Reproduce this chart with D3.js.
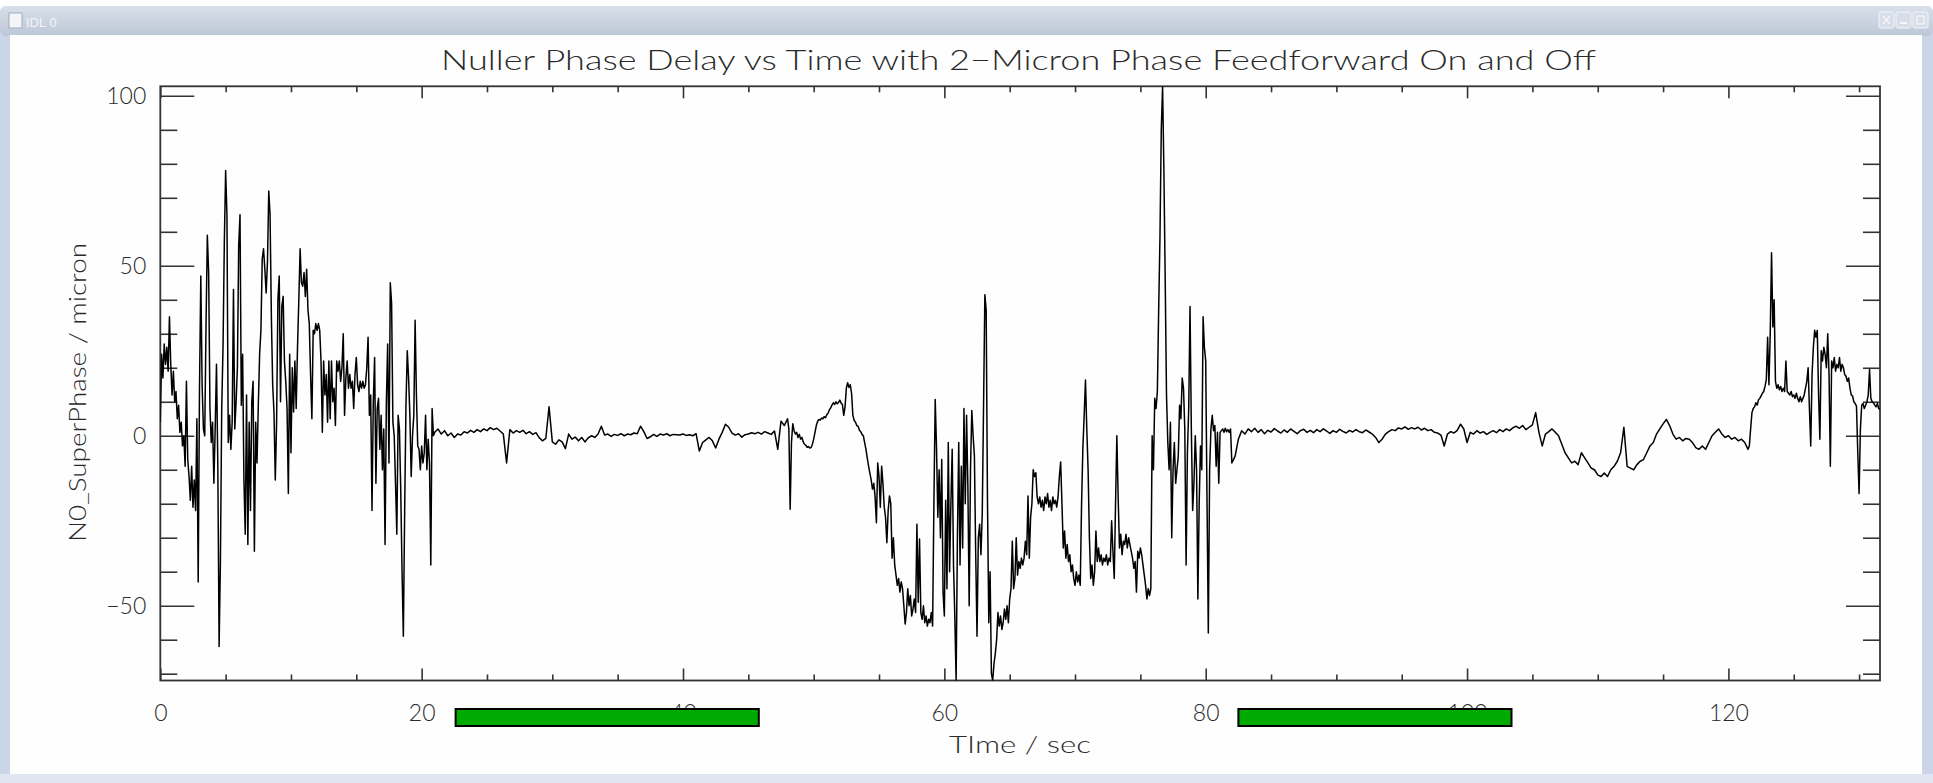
<!DOCTYPE html>
<html>
<head>
<meta charset="utf-8">
<script src="https://cdn.jsdelivr.net/npm/d3@7"></script>
<style>
html, body { margin: 0; padding: 0; background: #ffffff; overflow: hidden; }
svg { display: block; }
</style>
</head>
<body>
<svg id="chart" width="1933" height="783"></svg>
<script>
// ---- axis ticks ----
const xMajorTicks = [0, 20, 40, 60, 80, 100, 120];
const xMinorTicks = [5, 10, 15, 25, 30, 35, 45, 50, 55, 65, 70, 75, 85, 90, 95, 105, 110, 115, 125, 130];
const yMajorTicks = [-50, 0, 50, 100];
const yMinorTicks = [-70, -60, -40, -30, -20, -10, 10, 20, 30, 40, 60, 70, 80, 90];

// ---- N0_SuperPhase samples (micron), stored per recording segment ----
// segment 1: 0.0 - 21.0 s, 0.1 s sampling (feedforward off)
const seg1Start = 0, seg1Step = 0.1;
const seg1Values = [
  4,24,17,27,21,26,19,35,21,12,
  19,10,13,5,9,1,4,-3,0,-9,
  16,-7,-12,-19,-9,-21,-13,-22,5,-43,
  14,47,15,2,0,33,59,48,8,-2,
  4,-14,2,21,-8,-62,-37,8,26,57,
  78,65,-2,6,-4,4,43,2,10,20,
  56,65,9,24,-13,-29,12,-32,4,-22,
  10,16,-34,4,-8,9,24,31,52,55,
  49,42,51,72,65,35,15,7,-13,4,
  40,47,10,38,41,22,16,8,-17,24,
  -5,20,7,22,8,26,40,55,45,44,
  48,41,49,37,33,18,5,31,30,33,
  31,33,31,22,1,22,12,18,4,22,
  5,22,10,14,3,22,19,22,16,20,
  30,6,17,22,14,18,14,16,8,18,
  23,15,13,16,14,16,14,15,20,29,
  6,12,-22,10,23,-14,8,11,-4,6,
  -10,2,-32,10,27,-8,45,39,4,0,
  -14,-29,6,2,-16,-40,-59,-22,9,25,
  17,6,-12,0,6,34,12,-3,-4,-10,
  -3,-8,-5,6,-10,-1,-8,-38,8,0,
  1
];
// segment 2: 21.25 - 48.0 s, 0.25 s sampling (feedforward on)
const seg2Start = 21.25, seg2Step = 0.25;
const seg2Values = [
  2,0.5,1.5,0,0.8,-0.5,0.5,0.2,1.2,0.8,
  1.6,1,1.8,1.2,2,1.5,2.4,1.8,2.2,1.4,
  0.5,-8,1.8,0.8,1.5,1,1.6,0.6,1.2,0.4,
  0.9,-0.6,-1.5,-0.8,8.5,-1.8,-2.5,-1.2,-1.8,-3.8,
  0.5,-1,-0.4,-1.5,-0.5,-1.8,-0.6,0,-0.5,0.5,
  2.8,0.2,0.5,-0.2,0.4,0.1,0.6,0,0.5,0.3,
  0.8,0.6,2.8,1.2,-0.8,-0.3,0.4,-0.2,0.5,0.2,
  0.6,0,0.4,0.3,0.2,0.5,0.1,0.3,0,0.6,
  -4.5,-2,-1.2,-0.5,-1.5,-3.6,-1,1,3.4,2.5,
  0.8,0.2,0.6,-0.4,0.3,0.5,0.9,0.6,1,0.5,
  1.2,0.8,0.4,1.4,-4,4.3,3,5
];
// segment 3: 48.1 - 82.0 s, 0.1 s sampling (feedforward off)
const seg3Start = 48.1, seg3Step = 0.1;
const seg3Values = [
  2,-21.6,-2,3.5,1.5,0.5,1,-0.5,0.4,-1,
  -0.5,-1.8,-2.5,-2.8,-3.4,-3.2,-3.6,-3.5,-2.5,-1,
  1,3,4.2,4.8,4.6,5.2,5,5.6,5.3,6.2,
  6.6,7.6,8.2,9,9.7,9.2,10,9.4,9.8,10.5,
  9.6,9.2,6,8.5,14,15.6,14.2,15,12.5,6,
  4.5,4,3,2.8,1.6,1.2,0.4,0,-2,-4,
  -6.5,-8.9,-11,-13,-15.7,-14,-18,-25.6,-8,-12,
  -21,-9,-14,-21,-24,-31.5,-22,-17.7,-20,-36,
  -30,-38,-41,-44,-42,-46,-43,-45,-50,-55.4,
  -52,-45,-50,-47,-53,-51,-48,-52,-26,-49,
  -30.4,-52,-54,-50,-55,-53,-56,-54,-55,-52,
  -56,-20,10.7,-3.4,-24,-10,-30,-7,-46,-53,
  -19,-45,-2,-40,-20,-4,-38,-53,-72,-30,
  -2,-38,-9,-33,8,-20,6,-15,-50,-10,
  7.4,0,-6,-35,-59,-30,-26,-35,-23,8.7,
  41.5,37,-19,-55,-40,-70,-72,-67,-64,-60,
  -52,-56,-53,-57,-55,-51,-54,-50,-55,-48,
  -45,-31,-45,-42,-30,-41,-37,-39,-36,-38,
  -36,-31,-35,-17.7,-36,-24,-20,-10,-12,-10.9,
  -18,-20,-18,-21,-19,-22,-18,-20,-17,-21,
  -19,-22,-18,-20,-19,-21,-18,-12,-7.7,-20,
  -33,-28,-36,-32,-37,-35,-40,-38,-42,-44,
  -40,-43,-41,-44,-20,-3.6,6,16.4,2,-10,
  -30,-42,-38,-44,-40,-28,-37,-33,-37,-35,
  -38,-36,-37,-35,-38,-36,-37,-25,-34,-42,
  -20,0,-18,-33,-29,-35,-31,-32,-29,-33,
  -30,-32,-34,-36,-39,-37,-46,-34,-36,-33,
  -35,-38,-41,-44,-48,-45,-47,-45,0,-10,
  11,8,13,37,58.6,90,102.8,78,46,12,
  -2,-10,4,-30,-10,-2,-14,-10,-6,9,
  5,17,14,2,-38,-5,8,38,2,-22,
  -14,0,-10,-48,-20,-3,-10,35,26,22,
  -19,-58,-10,2,6,1.5,3,-9,1,-14,
  1,1.5,2,1,2.2,1.2,1.8,1,2,-8
];
// segment 4: 82.25 - 121.5 s, 0.25 s sampling (feedforward on)
const seg4Start = 82.25, seg4Step = 0.25;
const seg4Values = [
  -6,-1,1.5,0.5,2,1.2,2.2,1,1.8,0.6,
  1.6,1.1,2.1,1.4,0.8,1.7,1,2,1.3,0.6,
  1.5,1.9,1,1.6,0.9,1.8,1.2,2,1.4,0.7,
  1.5,1,1.9,1.3,0.8,1.6,1.1,1.8,1.2,0.9,
  1.7,1.1,0.5,-0.5,-2,-1,0.5,1.2,1.8,1.5,
  2.3,2,2.6,1.9,2.4,2,2.5,1.7,2.2,1.5,
  1.8,1,0.8,0.2,-3,0.5,1.2,0.8,1.6,3.4,
  2,-2,1,0.5,1.5,0.8,1.2,0.4,1,1.5,
  0.9,1.8,1.2,2,1.5,2.3,2.8,2.2,3,1.8,
  2.5,3.2,6.8,1,-3,0.5,1.2,2,1,0,
  -2.5,-5,-6.5,-8,-7.5,-8.5,-5,-6.5,-8,-9.5,
  -10,-11.5,-12,-11,-12,-10,-9,-7.5,-5,2.5,
  -9,-9.5,-10,-8.5,-7.5,-7,-5,-3,-2,0.5,
  2,3.5,4.8,3,0.5,-1,-0.5,-1.5,-0.8,-1,
  -2,-3.5,-4,-3,-4,-2,0,1,2,0.5,
  -0.5,0,-1,-0.5,-1.5,-1,-2,-4
];
// segment 5: 121.6 - 131.6 s, 0.1 s sampling (feedforward off)
const seg5Start = 121.6, seg5Step = 0.1;
const seg5Values = [
  -3,2,6.8,8,8.5,9.7,9,10.5,11,11.7,
  12.5,13,14.5,16.5,29,15,30,53.8,32,40,
  16,14,15,13.5,14.5,13,14,13,22,13,
  12.5,12,13,11.5,12,11,12.5,11,10,11.5,
  10,11,12,14,16,20,8,-3,18,26,
  31,29,31,12,-1,25,22,26,24,20,
  30,18,-9,22,20,23,19,21,20,23,
  19,21,20,18,17.5,16,17,14,12,11.7,
  10,9.5,8.7,-5,-17,2,9,9.5,8,9,
  10,12,19.5,11,10,9.7,9,8.5,9.5,8,
  7.8
];

// ---- intervals with 2-micron phase feedforward on (s) ----
const feedforwardOnStart = [22.6, 82.5];
const feedforwardOnEnd = [45.8, 103.4];

// ---- assemble the time series ----
const segments = [
  [seg1Start, seg1Step, seg1Values],
  [seg2Start, seg2Step, seg2Values],
  [seg3Start, seg3Step, seg3Values],
  [seg4Start, seg4Step, seg4Values],
  [seg5Start, seg5Step, seg5Values]
];
const series = [];
segments.forEach(([t0, dt, vals]) => {
  vals.forEach((v, i) => series.push({ t: +(t0 + i * dt).toFixed(3), v: v }));
});

// ---- layout ----
const W = 1933, H = 783;
const plot = { left: 160.3, right: 1880, top: 86.3, bottom: 680.5 };
const FONT = "Lato, 'DejaVu Sans', sans-serif";
const INK = "#2a2a2a";

const svg = d3.select("#chart");

// window chrome
const defs = svg.append("defs");
const grad = defs.append("linearGradient").attr("id", "titlebar")
  .attr("x1", 0).attr("y1", 0).attr("x2", 0).attr("y2", 1);
grad.append("stop").attr("offset", "0%").attr("stop-color", "#d9e0ea");
grad.append("stop").attr("offset", "100%").attr("stop-color", "#bcc7d6");

svg.append("rect").attr("x", 0).attr("y", 0).attr("width", W).attr("height", H).attr("fill", "#ffffff");
svg.append("rect").attr("x", 0).attr("y", 6).attr("width", W).attr("height", H - 6)
  .attr("rx", 6).attr("fill", "#cad6e7");
svg.append("rect").attr("x", 0).attr("y", 6).attr("width", W).attr("height", 30)
  .attr("rx", 6).attr("fill", "url(#titlebar)");
svg.append("rect").attr("x", 0).attr("y", 774).attr("width", W).attr("height", 9).attr("fill", "#dfe6f1");
svg.append("rect").attr("x", 10).attr("y", 35).attr("width", W - 21).attr("height", 739).attr("fill", "#fefefe");

// title bar icon and caption
svg.append("rect").attr("x", 9).attr("y", 13).attr("width", 13).attr("height", 15)
  .attr("fill", "#f3f5f8").attr("stroke", "#9eabbd").attr("stroke-width", 1);
svg.append("text").attr("x", 26).attr("y", 27).attr("font-family", "'DejaVu Sans', sans-serif")
  .attr("font-size", 12).attr("fill", "#f4f6fa").text("IDL 0");

// title bar buttons
[1879, 1896, 1913].forEach((bx, i) => {
  svg.append("rect").attr("x", bx).attr("y", 12).attr("width", 15).attr("height", 16).attr("rx", 2)
    .attr("fill", "#d7dee9").attr("stroke", "#f2f5f9").attr("stroke-width", 1);
});
svg.append("path").attr("d", "M1883,16 L1890,24 M1890,16 L1883,24").attr("stroke", "#f4f6f9").attr("stroke-width", 1.5);
svg.append("path").attr("d", "M1900,23 L1907,23").attr("stroke", "#f4f6f9").attr("stroke-width", 2);
svg.append("rect").attr("x", 1917).attr("y", 16).attr("width", 7).attr("height", 8)
  .attr("fill", "none").attr("stroke", "#f4f6f9").attr("stroke-width", 1.3);

// ---- scales ----
const x = d3.scaleLinear().domain(d3.extent(series, d => d.t)).range([plot.left, plot.right]);
const y = d3.scaleLinear().domain(d3.extent(series, d => d.v)).range([plot.bottom, plot.top]);

// ---- title ----
svg.append("text").attr("x", 441).attr("y", 70)
  .attr("font-family", FONT).attr("font-weight", 300).attr("font-size", 27)
  .attr("fill", INK).attr("textLength", 1155).attr("lengthAdjust", "spacingAndGlyphs")
  .text("Nuller Phase Delay vs Time with 2\u2212Micron Phase Feedforward On and Off");

// ---- axes (ticks point inward, IDL style) ----
function styleAxis(g) {
  g.select(".domain").remove();
  g.selectAll(".tick line").attr("stroke", "#333").attr("stroke-width", 1.6);
  g.selectAll(".tick text").attr("font-family", FONT).attr("font-weight", 300)
    .attr("font-size", 23).attr("fill", INK);
}
const fmt = d => d < 0 ? "\u2212" + Math.abs(d) : String(d);

svg.append("g").attr("transform", `translate(0,${plot.bottom})`)
  .call(d3.axisBottom(x).tickValues(xMajorTicks).tickSize(-12).tickPadding(24).tickFormat(fmt))
  .call(styleAxis);
svg.append("g").attr("transform", `translate(0,${plot.bottom})`)
  .call(d3.axisBottom(x).tickValues(xMinorTicks).tickSize(-6).tickFormat(""))
  .call(styleAxis);
svg.append("g").attr("transform", `translate(0,${plot.top})`)
  .call(d3.axisTop(x).tickValues(xMajorTicks).tickSize(-12).tickFormat(""))
  .call(styleAxis);
svg.append("g").attr("transform", `translate(0,${plot.top})`)
  .call(d3.axisTop(x).tickValues(xMinorTicks).tickSize(-6).tickFormat(""))
  .call(styleAxis);

svg.append("g").attr("transform", `translate(${plot.left},0)`)
  .call(d3.axisLeft(y).tickValues(yMajorTicks).tickSize(-34).tickPadding(14).tickFormat(fmt))
  .call(styleAxis);
svg.append("g").attr("transform", `translate(${plot.left},0)`)
  .call(d3.axisLeft(y).tickValues(yMinorTicks).tickSize(-17).tickFormat(""))
  .call(styleAxis);
svg.append("g").attr("transform", `translate(${plot.right},0)`)
  .call(d3.axisRight(y).tickValues(yMajorTicks).tickSize(-34).tickFormat(""))
  .call(styleAxis);
svg.append("g").attr("transform", `translate(${plot.right},0)`)
  .call(d3.axisRight(y).tickValues(yMinorTicks).tickSize(-17).tickFormat(""))
  .call(styleAxis);

// plot frame
svg.append("rect").attr("x", plot.left).attr("y", plot.top)
  .attr("width", plot.right - plot.left).attr("height", plot.bottom - plot.top)
  .attr("fill", "none").attr("stroke", "#333").attr("stroke-width", 1.8);

// ---- axis titles ----
svg.append("text").attr("x", 949).attr("y", 753)
  .attr("font-family", FONT).attr("font-weight", 300).attr("font-size", 24)
  .attr("fill", INK).attr("textLength", 142).attr("lengthAdjust", "spacingAndGlyphs")
  .text("TIme / sec");
svg.append("text").attr("transform", "translate(86,542) rotate(-90)")
  .attr("font-family", FONT).attr("font-weight", 300).attr("font-size", 24)
  .attr("fill", INK).attr("textLength", 299).attr("lengthAdjust", "spacingAndGlyphs")
  .text("N0_SuperPhase / micron");

// ---- phase trace ----
defs.append("clipPath").attr("id", "plotclip").append("rect")
  .attr("x", plot.left).attr("y", plot.top)
  .attr("width", plot.right - plot.left).attr("height", plot.bottom - plot.top);
svg.append("path").datum(series)
  .attr("clip-path", "url(#plotclip)")
  .attr("fill", "none").attr("stroke", "#000").attr("stroke-width", 1.5)
  .attr("stroke-linejoin", "round")
  .attr("d", d3.line().x(d => x(d.t)).y(d => y(d.v)));

// ---- feedforward-on markers below the time axis ----
svg.append("g").selectAll("rect").data(feedforwardOnStart).join("rect")
  .attr("x", (d, i) => x(d))
  .attr("y", 709)
  .attr("width", (d, i) => x(feedforwardOnEnd[i]) - x(d))
  .attr("height", 17)
  .attr("fill", "#00aa00").attr("stroke", "#000").attr("stroke-width", 2);
</script>
</body>
</html>
